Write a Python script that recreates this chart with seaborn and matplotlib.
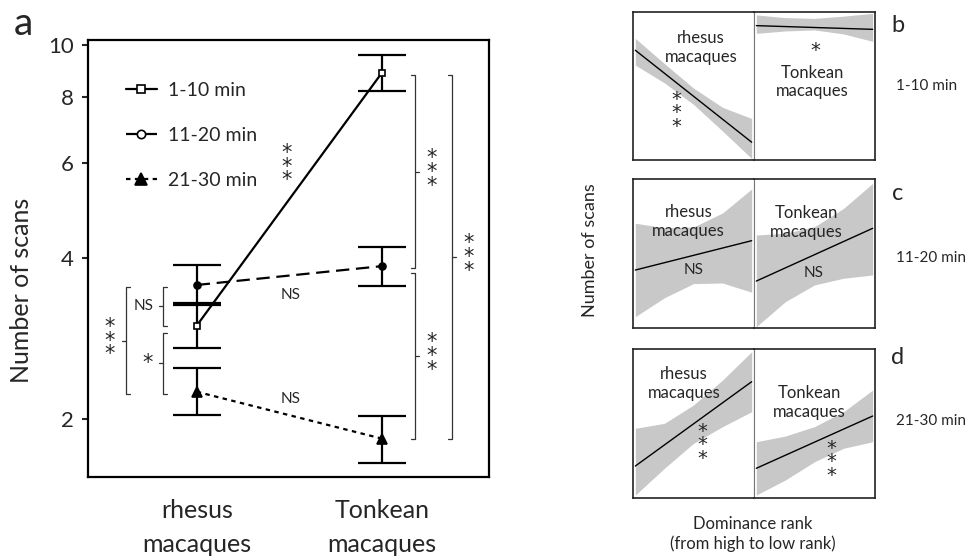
import matplotlib
matplotlib.use("Agg")
import matplotlib.pyplot as plt
from matplotlib.lines import Line2D
import numpy as np
import pandas as pd
import seaborn as sns

# ---- panel a data ----
species = ['rhesus\nmacaques', 'Tonkean\nmacaques']
periods = ['1-10 min', '11-20 min', '21-30 min']
scans_mean = {'1-10 min': [2.99, 8.85], '11-20 min': [3.56, 3.86], '21-30 min': [2.25, 1.84]}
scans_low = {'1-10 min': [2.71, 8.18], '11-20 min': [3.27, 3.54], '21-30 min': [2.04, 1.66]}
scans_high = {'1-10 min': [3.29, 9.58], '11-20 min': [3.88, 4.20], '21-30 min': [2.49, 2.03]}

# ---- panels b-d: fitted line ends and confidence band edges (axis fraction) ----
band_x = [0, 0.25, 0.5, 0.75, 1]
line_x = [0, 1]
fit_line = {
    ('b', 'rhesus'): [0.74, 0.12], ('b', 'Tonkean'): [0.906, 0.881],
    ('c', 'rhesus'): [0.391, 0.588], ('c', 'Tonkean'): [0.317, 0.671],
    ('d', 'rhesus'): [0.216, 0.781], ('d', 'Tonkean'): [0.201, 0.551],
}
band_upper = {
    ('b', 'rhesus'): [0.82, 0.65, 0.485, 0.355, 0.28], ('b', 'Tonkean'): [0.978, 0.96, 0.955, 0.97, 0.989],
    ('c', 'rhesus'): [0.705, 0.675, 0.68, 0.774, 0.935], ('c', 'Tonkean'): [0.626, 0.638, 0.682, 0.805, 0.973],
    ('d', 'rhesus'): [0.469, 0.502, 0.625, 0.792, 0.982], ('d', 'Tonkean'): [0.379, 0.417, 0.48, 0.58, 0.725],
}
band_lower = {
    ('b', 'rhesus'): [0.64, 0.52, 0.375, 0.195, 0.01], ('b', 'Tonkean'): [0.854, 0.87, 0.877, 0.85, 0.80],
    ('c', 'rhesus'): [0.078, 0.205, 0.30, 0.304, 0.242], ('c', 'Tonkean'): [0.011, 0.179, 0.291, 0.336, 0.358],
    ('d', 'rhesus'): [0.022, 0.201, 0.368, 0.48, 0.58], ('d', 'Tonkean'): [0.022, 0.123, 0.245, 0.335, 0.379],
}
sig_labels = {
    ('b', 'rhesus'): '*\n*\n*', ('b', 'Tonkean'): '*',
    ('c', 'rhesus'): 'NS', ('c', 'Tonkean'): 'NS',
    ('d', 'rhesus'): '*\n*\n*', ('d', 'Tonkean'): '*\n*\n*',
}

sns.set_theme(style='white')
plt.rcParams['font.family'] = ['Lato', 'DejaVu Sans']
STAR = dict(family='DejaVu Sans', fontsize=15, linespacing=0.6)

fig = plt.figure(figsize=(9.71, 5.56), dpi=100)
W, H = 971, 556


def px_axes(x0, y0, x1, y1):
    return fig.add_axes([x0 / W, 1 - y1 / H, (x1 - x0) / W, (y1 - y0) / H])


# ================= panel a =================
ax = px_axes(88, 40, 489, 477)
ax.set_yscale('log')

styles = {
    '1-10 min': dict(linestyle='-', marker='s', markersize=5, markerfacecolor='white'),
    '11-20 min': dict(linestyle=(0, (6, 3)), marker='o', markersize=5, markerfacecolor='black'),
    '21-30 min': dict(linestyle=(0, (2, 2)), marker='^', markersize=7, markerfacecolor='black'),
}
for p in periods:
    df = pd.DataFrame({'pos': [0, 1], 'scans': scans_mean[p]})
    sns.lineplot(data=df, x='pos', y='scans', ax=ax, color='black', linewidth=1.6,
                 markeredgecolor='black', markeredgewidth=1.2, zorder=3, **styles[p])
    mean = np.array(scans_mean[p])
    yerr = [mean - np.array(scans_low[p]), np.array(scans_high[p]) - mean]
    ax.errorbar([0, 1], mean, yerr=yerr, fmt='none', ecolor='black',
                elinewidth=1.6, capsize=17, capthick=1.6, zorder=2)

ax.set_xlim(-0.588, 1.58)
ax.set_ylim(1.56, 10.2)
ax.set_yticks([2, 4, 6, 8, 10])
ax.set_yticklabels(['2', '4', '6', '8', '10'])
ax.yaxis.set_minor_locator(matplotlib.ticker.NullLocator())
ax.set_xticks([0, 1])
ax.set_xticklabels(species, fontsize=18, linespacing=1.55)
ax.tick_params(axis='x', length=0, pad=16)
ax.tick_params(axis='y', left=True, direction='out', length=4, width=1.5, labelsize=16, pad=6)
ax.set_xlabel('')
ax.set_ylabel('')
for s in ax.spines.values():
    s.set_color('black')
    s.set_linewidth(1.6)

legend_face = {'1-10 min': 'white', '11-20 min': 'white', '21-30 min': 'black'}
handles = [Line2D([], [], color='black', linewidth=1.6, markeredgecolor='black',
                  markeredgewidth=1.2,
                  **{**styles[p], 'markersize': styles[p]['markersize'] + 1,
                     'markerfacecolor': legend_face[p]})
           for p in periods]
ax.legend(handles, periods, loc='upper left', bbox_to_anchor=(0.05, 0.945), frameon=False,
          fontsize=14, handlelength=1.6, labelspacing=1.45, handletextpad=0.6)


def bracket(x, y0, y1, side, label, off=13, **kw):
    # side=+1: arms point right, label on left; side=-1: arms point left, label on right
    arm = 0.022 * side
    ax.plot([x + arm, x, x, x + arm], [y0, y0, y1, y1], color='#333333', linewidth=0.9, zorder=1)
    ym = np.sqrt(y0 * y1)
    ax.plot([x, x - arm], [ym, ym], color='#333333', linewidth=0.9, zorder=1)
    ax.annotate(label, (x, ym), xytext=(-off * side, 0), textcoords='offset points',
                ha='center', va='center', **kw)


rh = {p: scans_mean[p][0] for p in periods}
tk = {p: scans_mean[p][1] for p in periods}
bracket(-0.382, rh['11-20 min'] * 0.99, rh['21-30 min'] * 0.99, 1, '*\n*\n*', off=12, **STAR)
bracket(-0.184, rh['11-20 min'] * 0.99, rh['1-10 min'] * 1.0, 1, 'NS', off=14, fontsize=11)
bracket(-0.184, rh['1-10 min'] * 0.97, rh['21-30 min'] * 0.99, 1, '*', off=11, **STAR)
bracket(1.18, tk['1-10 min'] * 0.99, tk['11-20 min'] * 0.99, -1, '*\n*\n*', off=12, **STAR)
bracket(1.18, tk['11-20 min'] * 0.97, tk['21-30 min'], -1, '*\n*\n*', off=12, **STAR)
bracket(1.38, tk['1-10 min'] * 0.99, tk['21-30 min'], -1, '*\n*\n*', off=12, **STAR)

ax.text(0.488, 5.92, '*\n*\n*', ha='center', va='center', **STAR)
ax.text(0.508, 3.41, 'NS', ha='center', va='center', fontsize=11)
ax.text(0.508, 2.18, 'NS', ha='center', va='center', fontsize=11)

fig.text(23 / W, 1 - 24 / H, 'a', fontsize=28, ha='center', va='center')
fig.text(22 / W, 1 - 290 / H, 'Number of scans', fontsize=18, rotation=90, ha='center', va='center')

# ================= panels b-d =================
rows = [('b', 11.7, 160, '1-10 min', 25, 86),
        ('c', 179.3, 328.3, '11-20 min', 193, 258),
        ('d', 349, 498.3, '21-30 min', 358, 421)]
text_pos = {
    ('b', 'rhesus'): ((0.56, 0.76), (0.36, 0.317)), ('b', 'Tonkean'): ((0.48, 0.526), (0.51, 0.74)),
    ('c', 'rhesus'): ((0.457, 0.715), (0.50, 0.39)), ('c', 'Tonkean'): ((0.435, 0.71), (0.49, 0.37)),
    ('d', 'rhesus'): ((0.42, 0.77), (0.57, 0.357)), ('d', 'Tonkean'): ((0.455, 0.64), (0.64, 0.245)),
}
for key, y0, y1, period, ly, py in rows:
    for sp, (x0, x1) in zip(['rhesus', 'Tonkean'], [(633, 754), (754, 875)]):
        a = px_axes(x0, y0, x1, y1)
        a.fill_between(band_x, band_lower[(key, sp)], band_upper[(key, sp)],
                       color='#c8c8c8', linewidth=0)
        sns.lineplot(x=line_x, y=fit_line[(key, sp)], ax=a, color='black', linewidth=1.0)
        a.set_xlim(-0.02, 1.02)
        a.set_ylim(0, 1)
        a.set_xticks([])
        a.set_yticks([])
        for s in a.spines.values():
            s.set_color('#222222')
            s.set_linewidth(1.2)
        inner = 'right' if sp == 'rhesus' else 'left'
        a.spines[inner].set_color('#777777')
        a.spines[inner].set_linewidth(0.8)
        (tx, ty), (sx, sy) = text_pos[(key, sp)]
        a.text(tx, ty, f'{sp}\nmacaques', transform=a.transAxes, ha='center', va='center',
               fontsize=12, linespacing=1.2)
        lab = sig_labels[(key, sp)]
        if lab == 'NS':
            a.text(sx, sy, lab, transform=a.transAxes, ha='center', va='center', fontsize=11)
        else:
            a.text(sx, sy, lab, transform=a.transAxes, ha='center', va='center',
                   family='DejaVu Sans', fontsize=14, linespacing=0.62)
    fig.text(898 / W, 1 - ly / H, key, fontsize=17, ha='center', va='center')
    fig.text(896 / W, 1 - py / H, period, fontsize=11, ha='left', va='center')

fig.text(590 / W, 1 - 250 / H, 'Number of scans', fontsize=13, rotation=90, ha='center', va='center')
fig.text(753 / W, 1 - 534 / H, 'Dominance rank\n(from high to low rank)', fontsize=12,
         ha='center', va='center', linespacing=1.2)

fig.savefig('out.png', dpi=100)
